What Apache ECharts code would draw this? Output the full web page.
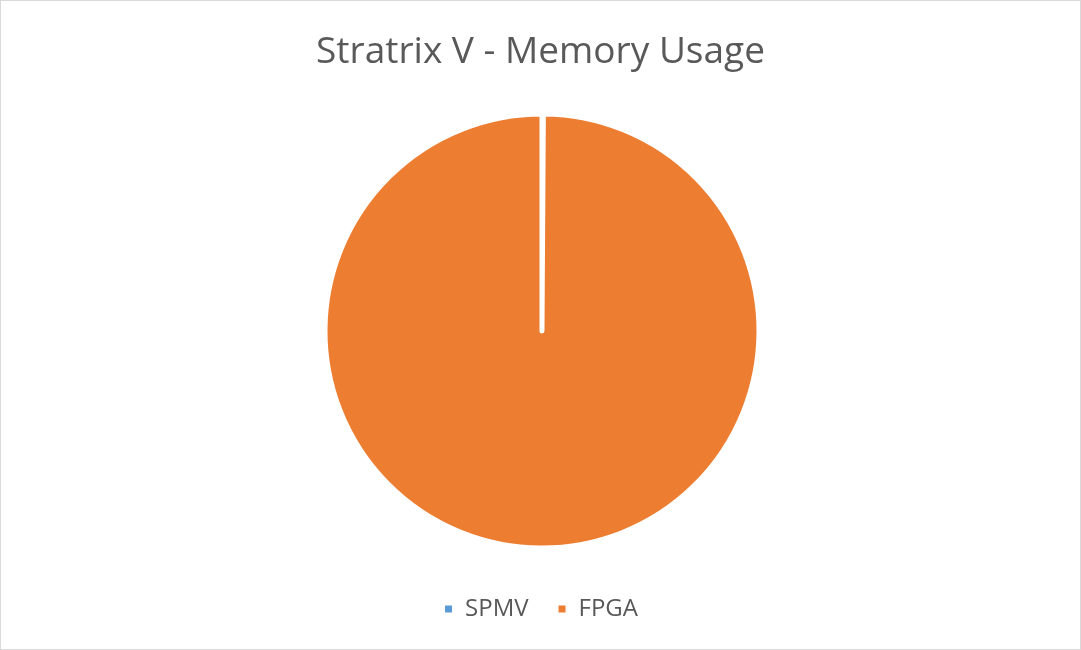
<!DOCTYPE html>
<html>
<head>
<meta charset="utf-8">
<script src="https://cdn.jsdelivr.net/npm/echarts@6/dist/echarts.min.js"></script>
<style>
  html, body { margin: 0; padding: 0; background: #fff; }
  #chart { width: 1081px; height: 650px; box-sizing: border-box; border: 1px solid #d9d9d9; }
</style>
</head>
<body>
<div id="chart"></div>
<script>
// 数据
const categories = ['SPMV', 'FPGA'];
const memoryValues = [0.1, 100];
const sliceColors = ['#5B9BD5', '#ED7D31'];

const chart = echarts.init(document.getElementById('chart'));

chart.setOption({
  animation: false,
  title: {
    text: 'Stratrix V - Memory Usage',
    left: 'center',
    top: 28,
    textStyle: {
      fontFamily: 'Open Sans',
      fontSize: 37,
      fontWeight: 'normal',
      color: '#595959'
    }
  },
  legend: {
    data: categories,
    top: 591,
    left: 'center',
    icon: 'rect',
    itemWidth: 9,
    itemHeight: 9,
    itemGap: 28,
    textStyle: {
      fontFamily: 'Open Sans',
      fontSize: 24,
      color: '#595959',
      padding: [0, 0, 0, 7]
    }
  },
  series: [{
    type: 'pie',
    center: [541, 330],
    radius: [0, 217],
    startAngle: 90,
    clockwise: true,
    label: { show: false },
    labelLine: { show: false },
    itemStyle: { borderColor: '#fff', borderWidth: 5 },
    emphasis: { disabled: true },
    data: categories.map((name, i) => ({
      name,
      value: memoryValues[i],
      itemStyle: { color: sliceColors[i] }
    }))
  }]
});
</script>
</body>
</html>
